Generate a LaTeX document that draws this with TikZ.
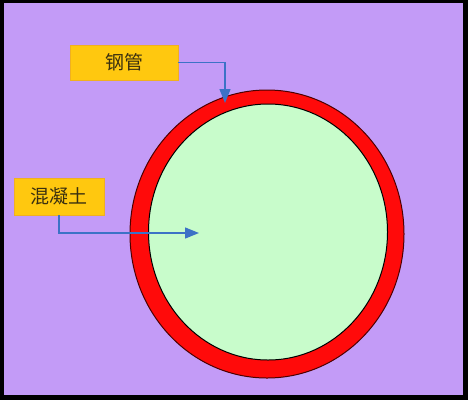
\documentclass[tikz,border=0pt]{standalone}
\usepackage{fontspec}
\newfontfamily\cjk{Noto Sans CJK SC}
\usetikzlibrary{arrows.meta}
\definecolor{bgpurple}{HTML}{C39BF7}
\definecolor{labelgold}{HTML}{FFC80F}
\definecolor{labelborder}{HTML}{F0B020}
\definecolor{pipered}{HTML}{FF0A0A}
\definecolor{concretegreen}{HTML}{C8FCCB}
\definecolor{arrowblue}{HTML}{3C72C6}
\definecolor{textdark}{HTML}{3A3010}
\tikzset{
  lbl/.style={fill=labelgold, draw=labelborder, line width=0.6pt, inner sep=0pt, text=textdark, font=\cjk\fontsize{19}{22}\selectfont},
  conn/.style={draw=arrowblue, line width=1.3pt, -{Triangle[length=14pt,width=11pt]}}
}
\begin{document}
\begin{tikzpicture}[x=1pt,y=-1pt]
\useasboundingbox (0,0) rectangle (468,400);
\fill[black] (0,0) rectangle (468,400);
\fill[bgpurple] (4,3) rectangle (463,395);
% pipe
\filldraw[fill=pipered, draw=black!70!red, line width=1pt] (267,234) ellipse [x radius=137, y radius=144];
\filldraw[fill=concretegreen, draw=black, line width=1pt] (268,232) ellipse [x radius=119.5, y radius=128];
% labels
\node[lbl, minimum width=108pt, minimum height=35pt] (steel) at (124,62.5) {钢管};
\node[lbl, minimum width=90pt, minimum height=37pt] (concrete) at (59,196.5) {混凝土};
\coordinate (steelend) at (225,103);
\coordinate (concend) at (199,233);
\draw[conn] (steel.east) -| (steelend);
\draw[conn] (concrete.south) |- (concend);
\end{tikzpicture}
\end{document}
